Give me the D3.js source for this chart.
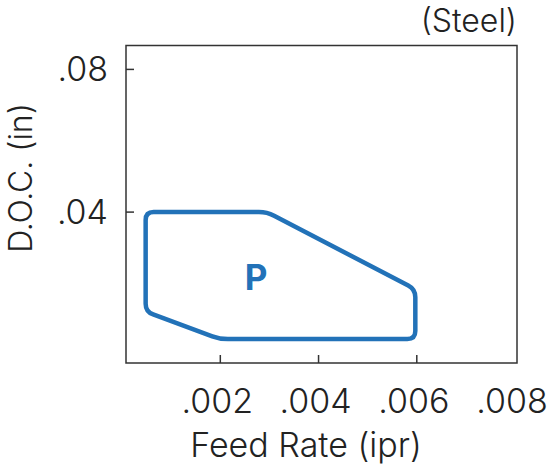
<html>
<head>
<meta charset="UTF-8">
<script src="https://d3js.org/d3.v7.min.js"></script>
<style>
  body { margin: 0; background: #fff; }
  text { font-family: Inter, "Liberation Sans", sans-serif; font-weight: 300; fill: #222; }
</style>
</head>
<body>
<svg id="chart" width="550" height="468"></svg>
<script>
// region outline (feed rate in ipr, depth of cut in inches)
const feed = [0.00048, 0.00295, 0.00597, 0.00597, 0.00199, 0.00048];
const doc = [0.0400, 0.0400, 0.0184, 0.0044, 0.0044, 0.0121];
const xTicks = [0.002, 0.004, 0.006, 0.008];
const xTickLabels = ['.002', '.004', '.006', '.008'];
const yTicks = [0.04, 0.08];
const yTickLabels = ['.04', '.08'];
const regionLabel = 'P';
const material = '(Steel)';

const svg = d3.select('svg#chart');
const plotLeft = 126, plotRight = 517, plotTop = 45.5, plotBottom = 363;

const x = d3.scaleLinear().domain([0.00008, 0.00804]).range([plotLeft, plotRight]);
const y = d3.scaleLinear().domain([-0.0023, 0.0867]).range([plotBottom, plotTop]);

// frame
svg.append('rect')
   .attr('x', plotLeft).attr('y', plotTop)
   .attr('width', plotRight - plotLeft).attr('height', plotBottom - plotTop)
   .attr('fill', 'none').attr('stroke', '#333').attr('stroke-width', 1.5);

// x ticks (inward) and labels
xTicks.forEach((t, i) => {
    if (x(t) < plotRight - 3) {
        svg.append('line')
           .attr('x1', x(t)).attr('x2', x(t))
           .attr('y1', plotBottom).attr('y2', plotBottom - 8)
           .attr('stroke', '#333').attr('stroke-width', 1.5);
    }
    svg.append('text')
       .attr('x', x(t) - 3).attr('y', 413)
       .attr('text-anchor', 'middle')
       .style('font-size', '34px')
       .text(xTickLabels[i]);
});

// y ticks (inward) and labels
yTicks.forEach((t, i) => {
    svg.append('line')
       .attr('x1', plotLeft).attr('x2', plotLeft + 8)
       .attr('y1', y(t)).attr('y2', y(t))
       .attr('stroke', '#333').attr('stroke-width', 1.5);
    svg.append('text')
       .attr('x', 108).attr('y', y(t) + 12)
       .attr('text-anchor', 'end')
       .style('font-size', '34px')
       .text(yTickLabels[i]);
});

// axis titles
svg.append('text')
   .attr('x', 306).attr('y', 457)
   .attr('text-anchor', 'middle')
   .style('font-size', '34px')
   .text('Feed Rate (ipr)');

svg.append('text')
   .attr('transform', 'translate(32,178) rotate(-90)')
   .attr('text-anchor', 'middle')
   .style('font-size', '32px')
   .text('D.O.C. (in)');

svg.append('text')
   .attr('x', plotRight).attr('y', 32)
   .attr('text-anchor', 'end')
   .style('font-size', '32px')
   .text(material);

// polygon with rounded corners
const pts = feed.map((f, i) => [x(f), y(doc[i])]);
const r = 8;
let path = '';
pts.forEach((p, i) => {
    const prev = pts[(i - 1 + pts.length) % pts.length];
    const next = pts[(i + 1) % pts.length];
    const d1 = Math.hypot(p[0] - prev[0], p[1] - prev[1]);
    const d2 = Math.hypot(next[0] - p[0], next[1] - p[1]);
    const a = [p[0] + (prev[0] - p[0]) * r / d1, p[1] + (prev[1] - p[1]) * r / d1];
    const b = [p[0] + (next[0] - p[0]) * r / d2, p[1] + (next[1] - p[1]) * r / d2];
    path += (i === 0 ? 'M' : 'L') + a[0] + ',' + a[1] + 'Q' + p[0] + ',' + p[1] + ' ' + b[0] + ',' + b[1];
});
path += 'Z';

svg.append('path')
   .attr('d', path)
   .attr('fill', 'none')
   .attr('stroke', '#2272b8')
   .attr('stroke-width', 4.5);

svg.append('text')
   .attr('x', x(0.00273)).attr('y', y(0.0181))
   .attr('text-anchor', 'middle')
   .style('font-size', '35px')
   .style('font-weight', 700)
   .style('fill', '#2272b8')
   .text(regionLabel);
</script>
</body>
</html>
